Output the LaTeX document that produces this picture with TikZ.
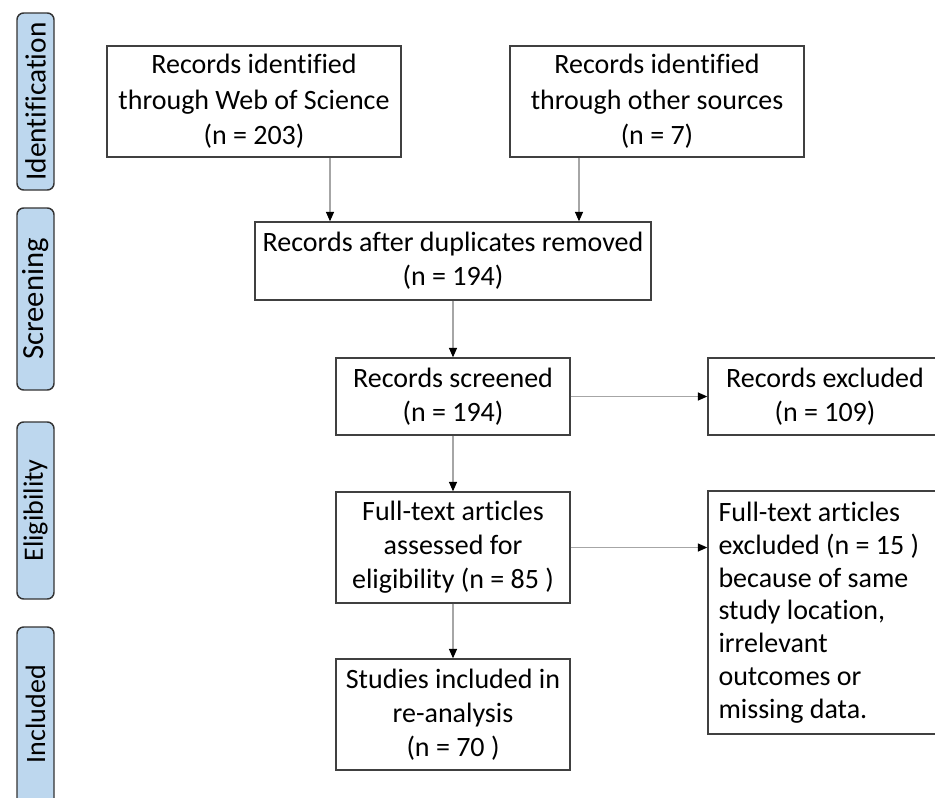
\documentclass[tikz,border=0pt]{standalone}
\usepackage{fontspec}
\setmainfont{Carlito}[Ligatures=NoCommon]
\usetikzlibrary{arrows.meta}
\begin{document}
\begin{tikzpicture}[x=0.75pt,y=-0.75pt,
  box/.style={draw=black!75,line width=1.1pt,rectangle,inner sep=0pt,align=center,
    font=\fontsize{21}{25.5}\selectfont},
  sidebar/.style={draw=black!80,line width=1.1pt,rounded corners=5pt,fill=sideblue,inner sep=0pt,
    minimum width=27.75pt},
  sidelabel/.style={rotate=90,font=\fontsize{21}{24}\selectfont},
  arr/.style={draw=black!35,line width=0.8pt,-{Triangle[length=7pt,width=6pt,color=black]}}]
\definecolor{sideblue}{RGB}{189,215,238}
\useasboundingbox (0,0) rectangle (935,797);
\clip (0,0) rectangle (935,797);
% side bars
\node[sidebar,minimum height=132.75pt] (sb1) at (35.5,101.5) {};
\node[sidelabel,font=\fontsize{22}{24}\selectfont] (sl1) at (sb1.center) {Identification};
\node[sidebar,minimum height=136.5pt] (sb2) at (35.5,299) {};
\node[sidelabel,font=\fontsize{23}{24}\selectfont] (sl2) at (sb2.center) {Screening};
\node[sidebar,minimum height=132.75pt] (sb3) at (35.5,510.5) {};
\node[sidelabel] (sl3) at (sb3.center) {Eligibility};
\node[sidebar,minimum height=138pt] (sb4) at (35.5,719) {};
\node[sidelabel] (sl4) at (35.5,714) {Included};
% boxes
\node[box,font=\fontsize{21}{26.5}\selectfont,minimum width=220.5pt,minimum height=83.25pt] (wos) at (254,101.5)
  {Records identified\\through Web of Science\\(n = 203)};
\node[box,font=\fontsize{21}{26.5}\selectfont,minimum width=220.5pt,minimum height=83.25pt] (oth) at (657,101.5)
  {Records identified\\through other sources\\(n = 7)};
\node[box,minimum width=297pt,minimum height=58.5pt] (dup) at (453,261)
  {Records after duplicates removed\\(n = 194)};
\node[box,minimum width=175.5pt,minimum height=57.75pt] (scr) at (453,396.5)
  {Records screened\\(n = 194)};
\node[box,minimum width=175.5pt,minimum height=57.75pt] (exc) at (825,396.5)
  {Records excluded\\(n = 109)};
\node[box,minimum width=175.5pt,minimum height=83.25pt] (ft) at (453,547.5)
  {Full-text articles\\assessed for\\eligibility (n = 85 )};
\node[box,minimum width=175.5pt,minimum height=182.25pt] (ftx) at (825,612.5) {};
\node[anchor=west,align=left,inner sep=0pt,font=\fontsize{21}{24.6}\selectfont] (ftxt) at ([xshift=8.25pt]ftx.west)
  {Full-text articles\\excluded (n = 15 )\\because of same\\study location,\\irrelevant\\outcomes or\\missing data.};
\node[box,minimum width=175.5pt,minimum height=83.25pt] (inc) at (453,714.5)
  {Studies included in\\re-analysis\\(n = 70 )};
% connectors
\coordinate (c1) at (330,0);
\coordinate (c2) at (579,0);
\draw[arr] (c1 |- wos.south) -- (c1 |- dup.north);
\draw[arr] (c2 |- oth.south) -- (c2 |- dup.north);
\draw[arr] (dup.south) -- (scr.north);
\draw[arr] (scr.east) -- (exc.west |- scr.east);
\draw[arr] (scr.south) -- (ft.north);
\draw[arr] (ft.east) -- (ftx.west |- ft.east);
\draw[arr] (ft.south) -- (inc.north);
\end{tikzpicture}
\end{document}
